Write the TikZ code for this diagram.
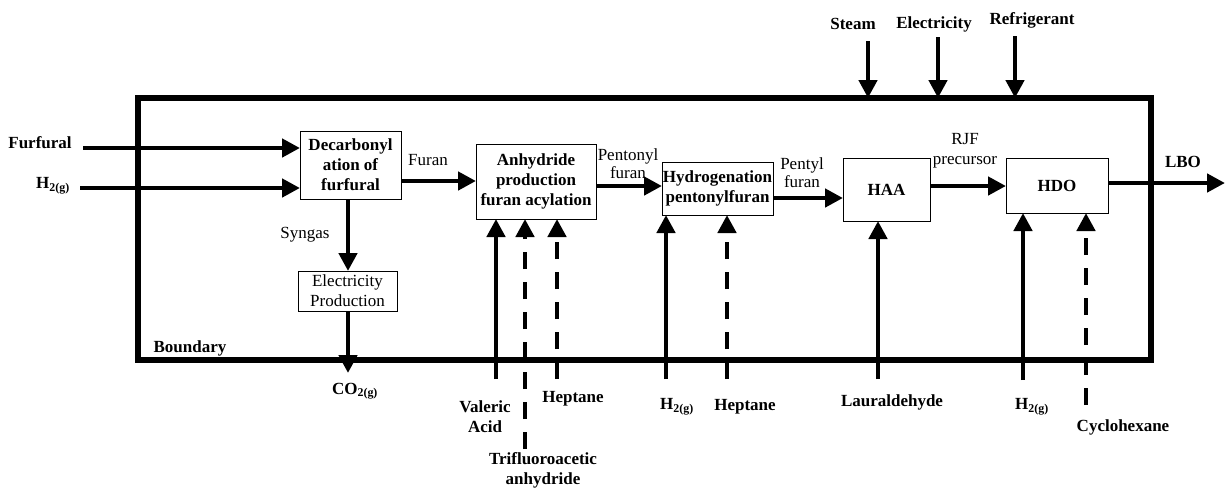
\documentclass[tikz,border=0pt]{standalone}
\usepackage{fontspec}
\setmainfont{Liberation Serif}
\usetikzlibrary{arrows.meta}
\begin{document}
\begin{tikzpicture}[x=1pt,y=-1pt,
 arr/.style={line width=4.5pt,-{Triangle[length=18pt,width=18pt]}},
 dsh/.style={arr,dash pattern=on 17pt off 13pt},
 box/.style={draw,line width=1pt,align=center,inner sep=0pt,outer sep=0pt,font=\fontsize{17}{20}\selectfont\bfseries},
 nbox/.style={box,font=\fontsize{17}{20}\selectfont},
 lbl/.style={align=center,font=\fontsize{17}{20}\selectfont\bfseries,inner sep=0pt},
 nlbl/.style={align=center,font=\fontsize{17}{20}\selectfont,inner sep=0pt}]
\useasboundingbox (0,0) rectangle (1225,488);
% boundary
\node[draw,line width=6pt,minimum width=1013.5pt,minimum height=262pt,inner sep=0pt,outer sep=0pt] (bnd) at (644.25,229) {};
\node[lbl] (bndl) at (190,348) {Boundary};
% process boxes
\node[box,minimum width=101pt,minimum height=68pt] (dec) at (350.5,165) {Decarbonyl\\ation of\\furfural};
\node[nbox,minimum width=99pt,minimum height=40pt] (elec) at (347.5,291) {Electricity\\Production};
\node[box,minimum width=120pt,minimum height=75pt] (anh) at (536,181.5) {Anhydride\\production\\furan acylation};
\node[box,minimum width=111pt,minimum height=53pt] (hyd) at (717.5,188.5) {Hydrogenation\\pentonylfuran};
\node[box,minimum width=87pt,minimum height=63pt] (haa) at (886.5,189.5) {HAA};
\node[box,minimum width=102pt,minimum height=55pt] (hdo) at (1057,185.5) {HDO};
% left inputs
\node[lbl] (furf) at (40,143) {Furfural};
\node[lbl] (h2a) at (53,186) {H\textsubscript{2(g)}};
\coordinate (furS) at (83,148);
\coordinate (h2S) at (80,188);
\draw[arr] (furS) -- (furS -| dec.west);
\draw[arr] (h2S) -- (h2S -| dec.west);
% syngas
\draw[arr] (dec.south -| 348,0) -- (elec.north -| 348,0);
\node[nlbl] (syn) at (305,235) {Syngas};
\coordinate (co2E) at (348,373);
\draw[arr] (elec.south -| co2E) -- (co2E);
\node[lbl] (co2) at (355,391) {CO\textsubscript{2(g)}};
% main line
\coordinate (f1) at (401,181);
\draw[arr] (f1) -- (f1 -| anh.west);
\node[nlbl] (furanl) at (428,160) {Furan};
\coordinate (f2) at (596,186);
\draw[arr] (f2) -- (f2 -| hyd.west);
\node[nlbl] (pentl) at (628,164) {Pentonyl\\[-2pt]furan};
\coordinate (f3) at (773,198);
\draw[arr] (f3) -- (f3 -| haa.west);
\node[nlbl] (pentyl) at (802,173) {Pentyl\\[-2pt]furan};
\coordinate (f4) at (930,186);
\draw[arr] (f4) -- (f4 -| hdo.west);
\node[nlbl] (rjf) at (965,151) {RJF\\precursor};
\coordinate (lboE) at (1225,183);
\draw[arr] (hdo.east |- lboE) -- (lboE);
\node[lbl] (lbo) at (1183,162) {LBO};
% top utilities
\node[lbl] (steam) at (853,24) {Steam};
\node[lbl] (elecu) at (934,24) {Electricity};
\node[lbl] (refr) at (1032,20) {Refrigerant};
\coordinate (s1) at (868,41);
\coordinate (s2) at (938,37);
\coordinate (s3) at (1015,36);
\draw[arr] (s1) -- (s1 |- bnd.north);
\draw[arr] (s2) -- (s2 |- bnd.north);
\draw[arr] (s3) -- (s3 |- bnd.north);
% bottom inputs
\coordinate (b1) at (496,379);
\coordinate (b2) at (525,449);
\coordinate (b3) at (557,379);
\coordinate (b4) at (666,379);
\coordinate (b5) at (727,379);
\coordinate (b6) at (878,379);
\coordinate (b7) at (1023,380);
\coordinate (b8) at (1086,405);
\draw[arr] (b1) -- (b1 |- anh.south);
\draw[dsh] (b2) -- (b2 |- anh.south);
\draw[dsh] (b3) -- (b3 |- anh.south);
\draw[arr] (b4) -- (b4 |- hyd.south);
\draw[dsh] (b5) -- (b5 |- hyd.south);
\draw[arr] (b6) -- (b6 |- haa.south);
\draw[arr] (b7) -- (b7 |- hdo.south);
\draw[dsh] (b8) -- (b8 |- hdo.south);
\node[lbl] (val) at (485,417) {Valeric\\Acid};
\node[lbl] (hep1) at (573,399) {Heptane};
\node[lbl] (tfa) at (543,470) {Trifluoroacetic\\anhydride};
\node[lbl] (h2b) at (677,407) {H\textsubscript{2(g)}};
\node[lbl] (hep2) at (745,407) {Heptane};
\node[lbl] (laur) at (892,402) {Lauraldehyde};
\node[lbl] (h2c) at (1032,407) {H\textsubscript{2(g)}};
\node[lbl] (cyc) at (1123,427) {Cyclohexane};
\end{tikzpicture}
\end{document}
